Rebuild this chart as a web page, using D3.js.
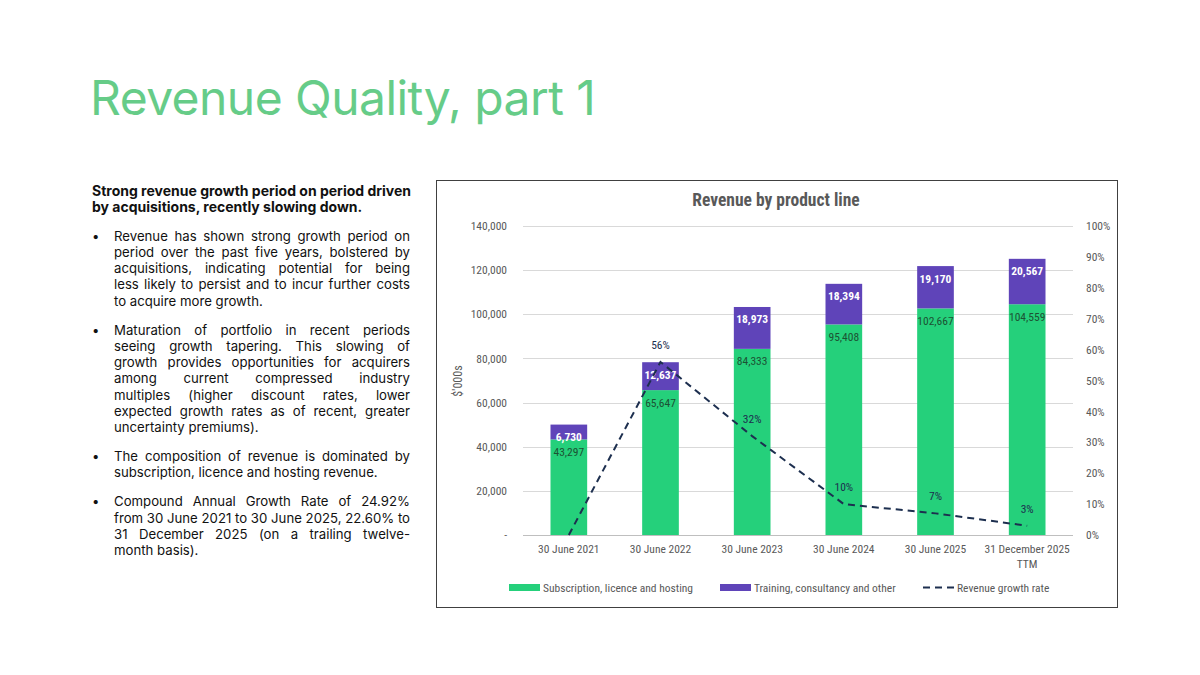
<!DOCTYPE html>
<html>
<head>
<meta charset="utf-8">
<script src="https://cdn.jsdelivr.net/npm/d3@7"></script>
<style>
  html, body { margin: 0; padding: 0; background: #fff; }
  #page { position: relative; width: 1200px; height: 675px; overflow: hidden; font-family: Inter, "Noto Sans", sans-serif; }
  .title { position: absolute; left: 90px; top: 68px; font-size: 48px; color: #66cc88; font-weight: 400; letter-spacing: -0.55px; white-space: nowrap; }
  .col { position: absolute; left: 92px; top: 183px; width: 318px; font-size: 13.2px; color: #111; }
  .col .head { font-weight: 700; font-size: 14px; line-height: 15.5px; margin-bottom: 13.5px; white-space: nowrap; }
  .col .ln { line-height: 16.25px; text-align: justify; text-align-last: justify; white-space: nowrap; }
  .col .ln.last { text-align-last: left; }
  .col .b { position: relative; padding-left: 22px; margin-bottom: 12.8px; }
  .col .b::before { content: "\2022"; position: absolute; left: 0; top: 0; line-height: 16.25px; }
  svg { position: absolute; left: 0; top: 0; }
  .narrow { font-family: "Liberation Sans Narrow", "Roboto Condensed", Roboto, sans-serif; }
</style>
</head>
<body>
<div id="page">
  <div class="title">Revenue Quality, part 1</div>
  <div class="col">
    <div class="head"><div>Strong revenue growth period on period driven</div><div>by acquisitions, recently slowing down.</div></div>
    <div class="b">
      <div class="ln">Revenue has shown strong growth period on</div>
      <div class="ln">period over the past five years, bolstered by</div>
      <div class="ln">acquisitions, indicating potential for being</div>
      <div class="ln">less likely to persist and to incur further costs</div>
      <div class="ln last">to acquire more growth.</div>
    </div>
    <div class="b">
      <div class="ln">Maturation of portfolio in recent periods</div>
      <div class="ln">seeing growth tapering. This slowing of</div>
      <div class="ln">growth provides opportunities for acquirers</div>
      <div class="ln">among current compressed industry</div>
      <div class="ln">multiples (higher discount rates, lower</div>
      <div class="ln">expected growth rates as of recent, greater</div>
      <div class="ln last">uncertainty premiums).</div>
    </div>
    <div class="b">
      <div class="ln">The composition of revenue is dominated by</div>
      <div class="ln last">subscription, licence and hosting revenue.</div>
    </div>
    <div class="b">
      <div class="ln">Compound Annual Growth Rate of 24.92%</div>
      <div class="ln">from 30 June 2021 to 30 June 2025, 22.60% to</div>
      <div class="ln">31 December 2025 (on a trailing twelve-</div>
      <div class="ln last">month basis).</div>
    </div>
  </div>
</div>
<script>
// data
const periods = [ '30 June 2021', '30 June 2022', '30 June 2023', '30 June 2024', '30 June 2025', '31 December 2025|TTM' ]
const subscription = [ 43297, 65647, 84333, 95408, 102667, 104559 ]
const training = [ 6730, 12637, 18973, 18394, 19170, 20567 ]
const growth = [ 0, 0.56, 0.32, 0.10, 0.07, 0.03 ]
const growthLabels = [ '', '56%', '32%', '10%', '7%', '3%' ]
const leftTicks = [ 0, 20000, 40000, 60000, 80000, 100000, 120000, 140000 ]
const rightTicks = [ 0, 0.1, 0.2, 0.3, 0.4, 0.5, 0.6, 0.7, 0.8, 0.9, 1 ]
const legendItems = [ 'Subscription, licence and hosting', 'Training, consultancy and other', 'Revenue growth rate' ]

const green = '#25d07b', purple = '#5f44b9', navy = '#1d2f4f', grey = '#595959'
const fs = 11.5

const svg = d3.select('#page').append('svg').attr('width', 1200).attr('height', 675)

// chart frame
svg.append('rect')
    .attr('x', 436.5).attr('y', 180.5).attr('width', 681).attr('height', 427)
    .attr('fill', '#fff').attr('stroke', '#404040').attr('stroke-width', 1)

svg.append('text')
    .attr('class', 'narrow')
    .attr('x', 776).attr('y', 206)
    .attr('text-anchor', 'middle')
    .attr('font-size', 17.5).attr('font-weight', 700).attr('fill', grey)
    .text('Revenue by product line')

const plot = { left: 523, right: 1073, top: 226, bottom: 535 }

const x = d3.scaleBand().domain( periods ).range( [ plot.left, plot.right ] ).paddingInner( 0.6 ).paddingOuter( 0.3 )
const y = d3.scaleLinear().domain( [ 0, 140000 ] ).range( [ plot.bottom, plot.top ] )
const y2 = d3.scaleLinear().domain( [ 0, 1 ] ).range( [ plot.bottom, plot.top ] )

// gridlines
svg.append('g').selectAll('line').data( leftTicks ).join('line')
    .attr('x1', plot.left).attr('x2', plot.right)
    .attr('y1', d => Math.round( y(d) ) + 0.5).attr('y2', d => Math.round( y(d) ) + 0.5)
    .attr('stroke', d => d === 0 ? '#bfbfbf' : '#d9d9d9').attr('stroke-width', 1)

// left axis
const leftAxis = svg.append('g').attr('class', 'narrow')
    .attr('transform', `translate(${ plot.left - 13 },0)`)
    .call( d3.axisLeft( y ).tickValues( leftTicks ).tickSize( 0 ).tickFormat( d => d === 0 ? '-' : d3.format(',')(d) ) )
leftAxis.select('.domain').remove()
leftAxis.selectAll('text').attr('font-size', fs).attr('fill', grey).attr('font-family', null)

// right axis
const rightAxis = svg.append('g').attr('class', 'narrow')
    .attr('transform', `translate(${ plot.right + 10 },0)`)
    .call( d3.axisRight( y2 ).tickValues( rightTicks ).tickSize( 0 ).tickFormat( d3.format('.0%') ) )
rightAxis.select('.domain').remove()
rightAxis.selectAll('text').attr('font-size', fs).attr('fill', grey).attr('font-family', null)

// y axis title
svg.append('text')
    .attr('class', 'narrow')
    .attr('transform', `translate(462,381) rotate(-90)`)
    .attr('text-anchor', 'middle')
    .attr('font-size', 12).attr('fill', grey)
    .text("$'000s")

// x labels
const xl = svg.append('g').attr('class', 'narrow')
periods.forEach( ( p, i ) => {
    p.split('|').forEach( ( line, j ) => {
        xl.append('text')
            .attr('x', x( p ) + x.bandwidth() / 2)
            .attr('y', 553 + j * 14.5)
            .attr('text-anchor', 'middle')
            .attr('font-size', fs).attr('fill', grey)
            .text( line )
    } )
} )

// stacked bars
const bars = svg.append('g')
periods.forEach( ( p, i ) => {
    const base = subscription[i], top = base + training[i]
    bars.append('rect')
        .attr('x', x( p )).attr('width', x.bandwidth())
        .attr('y', y( base )).attr('height', y( 0 ) - y( base ))
        .attr('fill', green)
    bars.append('rect')
        .attr('x', x( p )).attr('width', x.bandwidth())
        .attr('y', y( top )).attr('height', y( base ) - y( top ))
        .attr('fill', purple)
} )

// value labels
const labels = svg.append('g').attr('class', 'narrow').attr('text-anchor', 'middle').attr('font-size', fs)
periods.forEach( ( p, i ) => {
    const cx = x( p ) + x.bandwidth() / 2
    labels.append('text')
        .attr('x', cx).attr('y', y( subscription[i] ) + 16.5)
        .attr('fill', '#1c5233')
        .text( d3.format(',')( subscription[i] ) )
    labels.append('text')
        .attr('x', cx).attr('y', y( subscription[i] + training[i] ) + 16.5)
        .attr('fill', '#fff').attr('font-weight', 700)
        .text( d3.format(',')( training[i] ) )
} )

// growth line
const line = d3.line()
    .x( ( d, i ) => x( periods[i] ) + x.bandwidth() / 2 )
    .y( d => y2( d ) )

svg.append('path')
    .attr('d', line( growth ))
    .attr('fill', 'none')
    .attr('stroke', navy).attr('stroke-width', 2)
    .attr('stroke-dasharray', '7,5')

svg.append('g').attr('class', 'narrow').attr('text-anchor', 'middle').attr('font-size', fs).attr('fill', navy)
    .selectAll('text').data( growth ).join('text')
    .attr('x', ( d, i ) => x( periods[i] ) + x.bandwidth() / 2)
    .attr('y', d => y2( d ) - 13)
    .text( ( d, i ) => growthLabels[i] )

// legend
const legend = svg.append('g').attr('class', 'narrow').attr('font-size', fs).attr('fill', grey)
const legendX = [ 509, 720, 923 ]
legendItems.forEach( ( label, i ) => {
    const lx = legendX[i]
    if( i < 2 ) {
        legend.append('rect')
            .attr('x', lx).attr('y', 584).attr('width', 31).attr('height', 7)
            .attr('fill', i === 0 ? green : purple)
    } else {
        legend.append('line')
            .attr('x1', lx).attr('x2', lx + 31).attr('y1', 587.5).attr('y2', 587.5)
            .attr('stroke', navy).attr('stroke-width', 2).attr('stroke-dasharray', '7,5')
    }
    legend.append('text')
        .attr('x', lx + 34).attr('y', 591.5)
        .text( label )
} )
</script>
</body>
</html>
